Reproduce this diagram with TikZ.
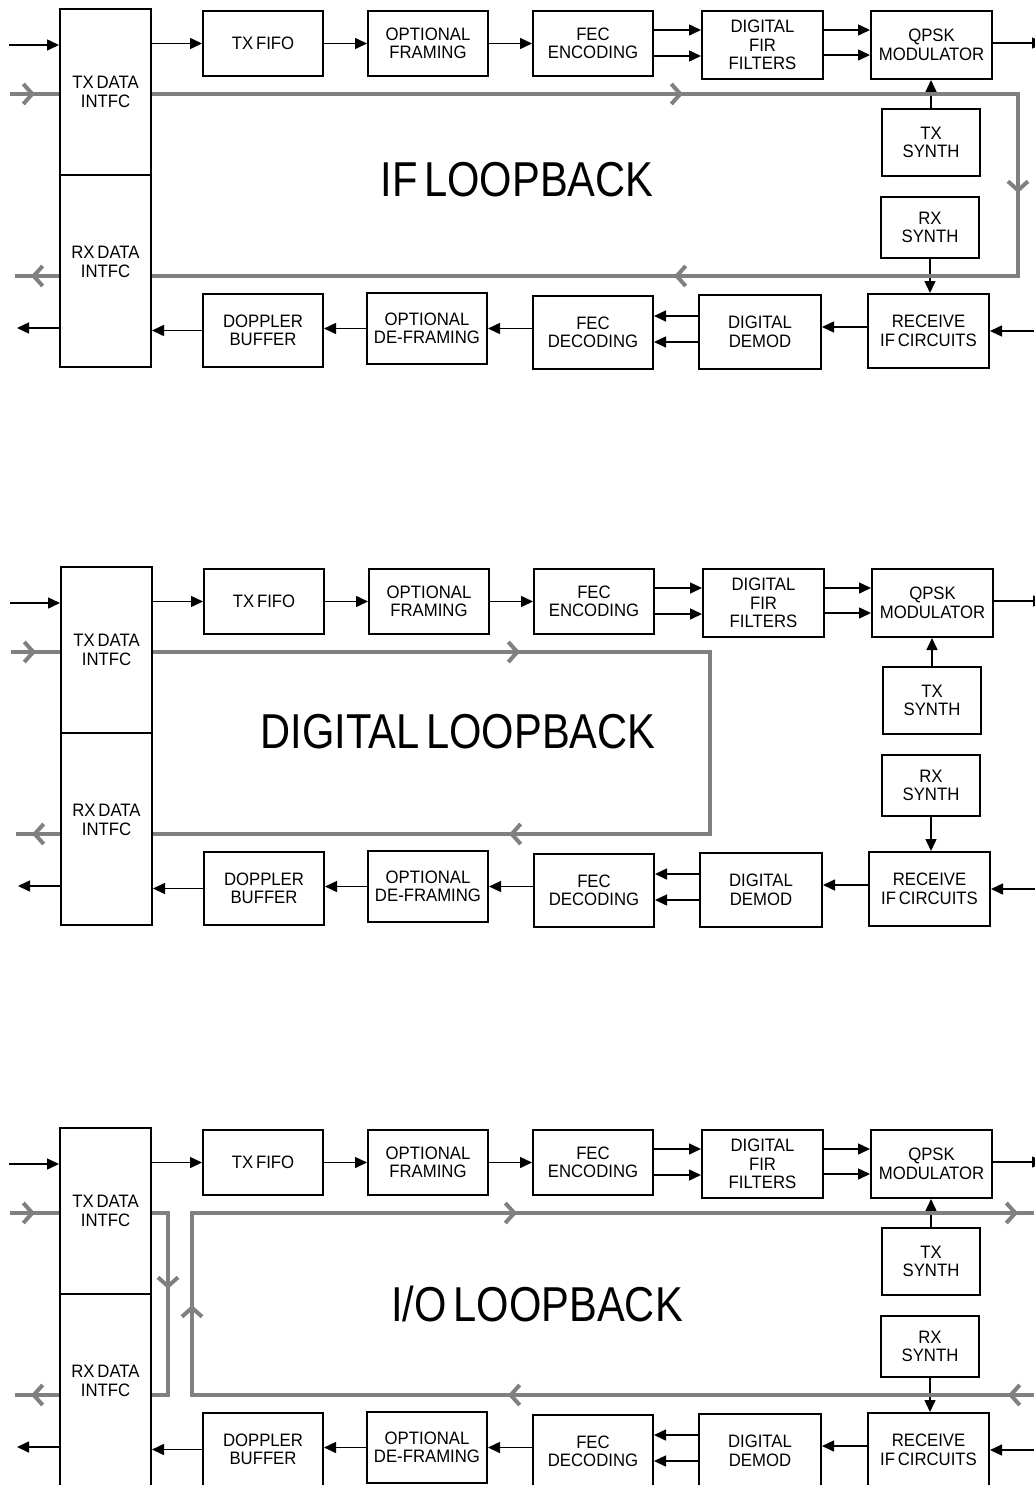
\documentclass[tikz,border=0pt]{standalone}
\usepackage{fontspec}
\setmainfont{Liberation Sans}[FakeStretch=0.93, WordSpace=0.6]
\newfontfamily\titlefont{Liberation Sans}[FakeStretch=0.85, WordSpace=0.6]
\usetikzlibrary{arrows.meta,calc,decorations.markings}
\definecolor{loopgray}{RGB}{128,128,128}

\begin{document}
\begin{tikzpicture}[x=1pt, y=-1pt,
    blk/.style={draw, line width=2pt, minimum width=120pt, minimum height=66pt, inner sep=0pt, align=center, font=\fontsize{18}{18.5}\selectfont},
    arr/.style={line width=1.5pt, -{Triangle[length=12pt,width=11pt]}},
    gline/.style={draw=loopgray, line width=4pt},
    chev at/.style={postaction={decorate, decoration={markings, mark=at position #1 with {\arrow{Straight Barb[length=9pt,width=20pt]}}}}},
    looptitle/.style={font=\titlefont\fontsize{49}{50}\selectfont}
  ]
  \useasboundingbox (0,0) rectangle (1034,1485);

  % the same block chain in all three panels
  \foreach \p/\dx/\dy in {a/0/0, b/1/558, c/0/1119} {
    \begin{scope}[shift={(\dx,\dy)}, name prefix=\p-]
      \node[blk, minimum width=91pt, minimum height=166pt] (txi) at (105.5,92) {TX DATA\\INTFC};
      \node[blk, minimum width=91pt, minimum height=192pt,
        label={[align=center, font=\fontsize{18}{18.5}\selectfont, yshift=9pt]center:{RX DATA\\INTFC}}] (rxi) at (105.5,271) {};
      \node[blk, minimum height=65pt] (fifo) at (263,43.5) {TX FIFO};
      \node[blk, minimum height=65pt] (frm) at (428,43.5) {OPTIONAL\\FRAMING};
      \node[blk, minimum height=65pt] (fenc) at (593,43.5) {FEC\\ENCODING};
      \node[blk, minimum width=121pt, minimum height=68pt] (fir) at (762.5,45) {DIGITAL\\FIR\\FILTERS};
      \node[blk, minimum width=121pt, minimum height=68pt] (qpsk) at (931.5,45) {QPSK\\MODULATOR};
      \node[blk, minimum width=98pt, minimum height=67pt] (txs) at (931,142.5) {TX\\SYNTH};
      \node[blk, minimum width=98pt, minimum height=61pt] (rxs) at (930,227.5) {RX\\SYNTH};
      \node[blk, minimum width=121pt, minimum height=74pt] (rcv) at (928.5,331) {RECEIVE\\IF CIRCUITS};
      \node[blk, minimum width=122pt, minimum height=74pt] (dem) at (760,332) {DIGITAL\\DEMOD};
      \node[blk, minimum height=73pt] (fdec) at (593,332.5) {FEC\\DECODING};
      \node[blk, minimum height=71pt] (dfr) at (427,328.5) {OPTIONAL\\DE-FRAMING};
      \node[blk, minimum height=73pt] (dop) at (263,330.5) {DOPPLER\\BUFFER};

      \coordinate (din) at (9,45);
      \coordinate (dout) at (17,328);
      \coordinate (qout) at (1044,43);
      \coordinate (rin) at (1034,331);

      % transmit side
      \draw[arr] (din) -- (din -| txi.west);
      \draw[arr] (fifo.west -| txi.east) -- (fifo.west);
      \draw[arr] (fifo) -- (frm);
      \draw[arr] (frm) -- (fenc);
      \draw[arr] ($(fenc.east)+(0,-13.5)$) coordinate (e1) -- (e1 -| fir.west);
      \draw[arr] ($(fenc.east)+(0,12.5)$) coordinate (e2) -- (e2 -| fir.west);
      \draw[arr] ($(fir.east)+(0,-15)$) coordinate (f1) -- (f1 -| qpsk.west);
      \draw[arr] ($(fir.east)+(0,10)$) coordinate (f2) -- (f2 -| qpsk.west);
      \draw[arr] (qpsk.east |- qout) -- (qout);
      \draw[arr] (txs.north) -- (txs.north |- qpsk.south);

      % receive side
      \draw[arr] (rxs.south) -- (rxs.south |- rcv.north);
      \draw[arr] (rin) -- (rin -| rcv.east);
      \draw[arr] ($(rcv.west)+(0,-4)$) coordinate (r1) -- (r1 -| dem.east);
      \draw[arr] ($(dem.west)+(0,-16)$) coordinate (d1) -- (d1 -| fdec.east);
      \draw[arr] ($(dem.west)+(0,10)$) coordinate (d2) -- (d2 -| fdec.east);
      \draw[arr] (dfr.east -| fdec.west) -- (dfr.east);
      \draw[arr] (dfr.west) -- (dfr.west -| dop.east);
      \draw[arr] (dop.west) -- (dop.west -| rxi.east);
      \draw[arr] (dout -| rxi.west) -- (dout);
    \end{scope}
  }

  % IF loopback
  \begin{scope}[name prefix=a-]
    \coordinate (gin) at (10,94);
    \coordinate (gout) at (15,276);
    \coordinate (ne) at (1018,94);
    \coordinate (se) at (1018,276);
    \draw[gline, chev at=25pt] (gin) -- (gin -| txi.west);
    \draw[gline, chev at=531pt, chev at=965pt, chev at=1392pt] (gin -| txi.east) -- (ne) -- (se) -- (se -| rxi.east);
    \draw[gline, chev at=28pt] (gout -| rxi.west) -- (gout);
    \node[looptitle] (title) at (517,180) {IF LOOPBACK};
  \end{scope}

  % digital loopback
  \begin{scope}[shift={(1,558)}, name prefix=b-]
    \coordinate (gin) at (10,94);
    \coordinate (gout) at (15,276);
    \coordinate (ne) at (709,94);
    \coordinate (se) at (709,276);
    \draw[gline, chev at=25pt] (gin) -- (gin -| txi.west);
    \draw[gline, chev at=367pt, chev at=940pt] (gin -| txi.east) -- (ne) -- (se) -- (se -| rxi.east);
    \draw[gline, chev at=28pt] (gout -| rxi.west) -- (gout);
    \node[looptitle] (title) at (457,174) {DIGITAL LOOPBACK};
  \end{scope}

  % I/O loopback
  \begin{scope}[shift={(0,1119)}, name prefix=c-]
    \coordinate (gin) at (10,94);
    \coordinate (gout) at (15,276);
    \coordinate (ln) at (168,94);
    \coordinate (ls) at (168,276);
    \coordinate (iob) at (1034,276);
    \coordinate (iosw) at (192,276);
    \coordinate (ionw) at (192,94);
    \coordinate (iot) at (1034,94);
    \draw[gline, chev at=25pt] (gin) -- (gin -| txi.west);
    \draw[gline, chev at=92pt] (gin -| txi.east) -- (ln) -- (ls) -- (ls -| rxi.east);
    \draw[gline, chev at=28pt] (gout -| rxi.west) -- (gout);
    \draw[gline, chev at=26pt, chev at=526pt, chev at=932pt, chev at=1349pt, chev at=1850pt] (iob) -- (iosw) -- (ionw) -- (iot);
    \node[looptitle] (title) at (537,185) {I/O LOOPBACK};
  \end{scope}
\end{tikzpicture}
\end{document}
